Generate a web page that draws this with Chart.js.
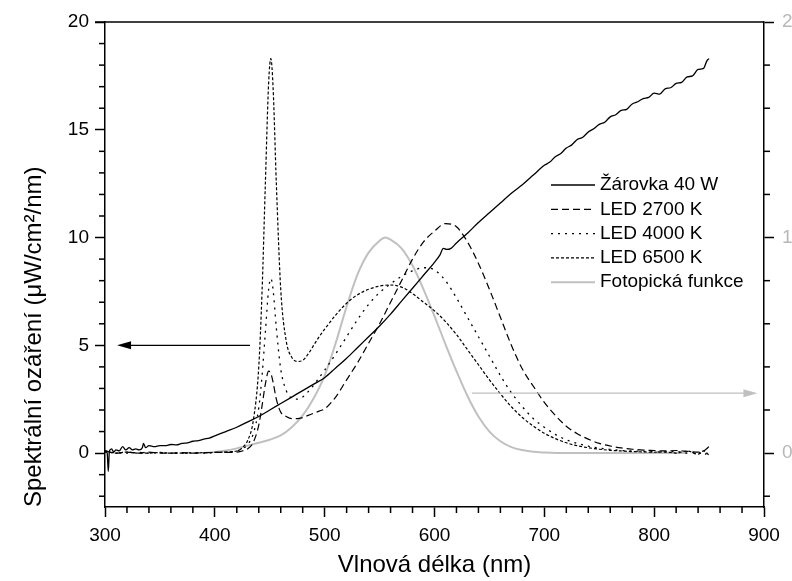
<!DOCTYPE html>
<html>
<head>
<meta charset="utf-8">
<script src="https://cdn.jsdelivr.net/npm/chart.js@4/dist/chart.umd.min.js"></script>
<style>html,body{margin:0;padding:0;background:#fff}canvas{display:block}</style>
</head>
<body>
<canvas id="c" width="792" height="581"></canvas>
<script>
// ---- data (wavelength nm, value) ----
const seriesNames = ['Žárovka 40 W','LED 2700 K','LED 4000 K','LED 6500 K','Fotopická funkce'];
const xTicks = [300,400,500,600,700,800,900];
const yTicks = [0,5,10,15,20];
const y2Ticks = [0,1,2];

const lampData = [[300,0.1],[302,0.0],[303,-0.85],[304,0.1],[306,0.2],[308,0.05],[310,0.15],[313,0.1],[316,0.3],[319,0.15],[322,0.25],[325,0.15],[328,0.2],[331,0.15],[334,0.25],[335,0.45],[337,0.25],[340,0.35],[345,0.3],[350,0.35],[355,0.35],[360,0.4],[365,0.38],[370,0.45],[375,0.48],[380,0.55],[385,0.58],[390,0.65],[395,0.7],[400,0.8],[410,1.0],[420,1.2],[430,1.45],[440,1.7],[450,2.0],[460,2.3],[470,2.6],[480,2.9],[490,3.2],[500,3.5],[510,3.95],[520,4.4],[530,4.9],[540,5.4],[550,5.9],[560,6.45],[570,7.05],[580,7.65],[590,8.25],[600,8.85],[605,9.2],[608,9.5],[611,9.45],[615,9.5],[620,9.75],[630,10.2],[640,10.7],[650,11.15],[660,11.6],[670,12.05],[680,12.45],[690,12.9],[700,13.35],[705,13.5],[710,13.75],[715,13.9],[720,14.15],[725,14.3],[730,14.55],[735,14.65],[740,14.9],[745,15.05],[750,15.25],[755,15.35],[760,15.6],[765,15.7],[770,15.9],[775,15.95],[780,16.2],[785,16.3],[790,16.45],[795,16.5],[800,16.7],[805,16.65],[810,16.9],[815,16.95],[820,17.15],[825,17.2],[830,17.45],[835,17.5],[840,17.8],[845,17.85],[848,18.2],[850,18.3]];

const led2700Data = [[300,0.1],[310,0.0],[320,0.05],[330,0.0],[340,0.05],[350,0.0],[360,0.0],[370,0.02],[380,0.0],[390,0.02],[400,0.03],[410,0.03],[420,0.05],[425,0.1],[430,0.2],[435,0.5],[440,1.3],[443,2.2],[446,3.2],[449,3.8],[451,3.7],[453,3.3],[456,2.5],[460,1.9],[465,1.7],[470,1.6],[475,1.6],[480,1.65],[485,1.75],[490,1.85],[495,1.95],[500,2.05],[510,2.6],[520,3.4],[530,4.2],[540,5.1],[550,6.0],[560,7.0],[570,8.0],[580,9.0],[590,9.8],[600,10.3],[610,10.65],[620,10.5],[630,9.8],[640,8.8],[650,7.6],[660,6.3],[670,5.0],[680,3.9],[690,3.1],[700,2.35],[710,1.75],[720,1.25],[730,0.9],[740,0.65],[750,0.45],[760,0.33],[770,0.24],[780,0.18],[790,0.14],[800,0.12],[810,0.1],[820,0.12],[830,0.08],[840,0.05],[845,0.1],[850,0.3]];

const led4000Data = [[300,0.05],[310,0.02],[320,0.0],[330,0.03],[340,0.0],[350,0.02],[360,0.0],[370,0.0],[380,0.02],[390,0.0],[400,0.03],[410,0.05],[420,0.1],[425,0.2],[430,0.4],[435,0.9],[440,2.1],[443,3.6],[446,5.6],[449,7.6],[451,8.1],[453,7.6],[456,5.8],[460,3.9],[465,2.9],[470,2.55],[475,2.5],[480,2.6],[485,2.85],[490,3.15],[495,3.5],[500,3.85],[510,4.6],[520,5.4],[530,6.2],[540,6.9],[550,7.45],[560,7.85],[570,8.2],[580,8.45],[590,8.6],[600,8.5],[610,8.0],[620,7.2],[630,6.3],[640,5.4],[650,4.5],[660,3.6],[670,2.8],[680,2.15],[690,1.6],[700,1.2],[710,0.87],[720,0.62],[730,0.45],[740,0.32],[750,0.23],[760,0.17],[770,0.12],[780,0.1],[790,0.08],[800,0.06],[810,0.05],[820,0.08],[830,0.0],[840,0.05],[845,-0.1],[850,0.15]];

const led6500Data = [[300,0.1],[310,0.0],[320,0.05],[330,0.0],[340,0.0],[350,0.03],[360,0.0],[370,0.0],[380,0.0],[390,0.02],[400,0.03],[410,0.05],[420,0.1],[425,0.25],[430,0.6],[435,1.5],[440,4.0],[443,7.5],[446,12.5],[449,17.2],[451,18.3],[453,17.0],[456,12.5],[460,7.6],[465,5.2],[470,4.45],[475,4.25],[480,4.3],[485,4.6],[490,5.0],[495,5.4],[500,5.75],[510,6.4],[520,6.95],[530,7.35],[540,7.6],[550,7.75],[560,7.8],[570,7.7],[580,7.4],[590,7.0],[600,6.6],[610,6.1],[620,5.5],[630,4.8],[640,4.1],[650,3.4],[660,2.75],[670,2.15],[680,1.65],[690,1.25],[700,0.92],[710,0.67],[720,0.48],[730,0.34],[740,0.25],[750,0.18],[760,0.13],[770,0.1],[780,0.07],[790,0.06],[800,0.04],[810,0.06],[820,0.0],[830,0.1],[840,-0.05],[845,0.1],[850,-0.1]];

const photopicData = [[390,0],[400,0.005],[410,0.012],[420,0.022],[430,0.035],[440,0.048],[450,0.062],[460,0.082],[470,0.12],[480,0.175],[490,0.255],[500,0.36],[510,0.51],[520,0.68],[530,0.83],[540,0.93],[550,0.985],[555,1.0],[560,0.99],[570,0.95],[580,0.87],[590,0.76],[600,0.635],[610,0.505],[620,0.38],[630,0.265],[640,0.17],[650,0.1],[660,0.055],[670,0.028],[680,0.014],[690,0.006],[700,0.003],[720,0],[760,0],[800,0],[830,0]];

// arrows: [xFrom, xTo, yValue] in data units
const arrowLeft = [432, 311, 5];      // left axis
const arrowRight = [634, 894, 0.278]; // right axis

const FONT = '"Liberation Sans", Arial, sans-serif';
const toXY = a => a.map(p => ({x: p[0], y: p[1]}));
const dashes = [[], [7,4], [2,5], [3,2], []];
const colors = ['#000','#000','#000','#000','#c0c0c0'];
const widths = [1.3, 1.2, 1.3, 1.2, 2];

const extras = {
  id: 'extras',
  afterDraw(chart) {
    const ctx = chart.ctx, a = chart.chartArea;
    const sx = chart.scales.x, sy = chart.scales.y, sy2 = chart.scales.y2;
    ctx.save();
    ctx.strokeStyle = '#000'; ctx.lineWidth = 1.5; ctx.setLineDash([]);
    const seg = (x1,y1,x2,y2) => { ctx.beginPath(); ctx.moveTo(x1,y1); ctx.lineTo(x2,y2); ctx.stroke(); };
    seg(a.left - 10, a.top, a.right, a.top);
    for (let v = 320; v < 900; v += 20) { if (v % 100) { const p = sx.getPixelForValue(v); seg(p, a.bottom, p, a.bottom + 6); } }
    for (let v = -2; v < 20; v++) { if (v % 5) { const p = sy.getPixelForValue(v); seg(a.left - 6, p, a.left, p); } }
    for (let k = -1; k < 10; k++) { if (k % 5) { const p = sy2.getPixelForValue(k * 0.2); seg(a.right, p, a.right + 6, p); } }
    // arrows
    const arrow = (x1, x2, y, col) => {
      ctx.strokeStyle = col; ctx.fillStyle = col; ctx.lineWidth = 1.3;
      const dir = Math.sign(x2 - x1);
      seg(x1, y, x2 - dir * 10, y);
      ctx.beginPath(); ctx.moveTo(x2, y); ctx.lineTo(x2 - dir * 14, y - 4); ctx.lineTo(x2 - dir * 14, y + 4); ctx.closePath(); ctx.fill();
    };
    arrow(sx.getPixelForValue(arrowLeft[0]), sx.getPixelForValue(arrowLeft[1]), sy.getPixelForValue(arrowLeft[2]), '#000');
    arrow(sx.getPixelForValue(arrowRight[0]), sx.getPixelForValue(arrowRight[1]), sy2.getPixelForValue(arrowRight[2]), '#c0c0c0');
    // legend
    ctx.font = '19px ' + FONT; ctx.textBaseline = 'middle'; ctx.textAlign = 'left'; ctx.fillStyle = '#000';
    const lx0 = 551, lx1 = 595, tx = 600, ty0 = 185, dy = 24.3;
    seriesNames.forEach((n, i) => {
      const yy = ty0 + i * dy;
      ctx.strokeStyle = colors[i]; ctx.lineWidth = widths[i]; ctx.setLineDash(dashes[i]);
      seg(lx0, yy, lx1, yy);
      ctx.setLineDash([]);
      ctx.fillStyle = '#000';
      ctx.fillText(n, tx, yy);
    });
    ctx.restore();
  }
};

const series = [lampData, led2700Data, led4000Data, led6500Data, photopicData];
const datasets = series.map((d, i) => ({
  label: seriesNames[i],
  data: toXY(d),
  yAxisID: i === 4 ? 'y2' : 'y',
  borderColor: colors[i],
  borderWidth: widths[i],
  borderDash: dashes[i],
  pointRadius: 0,
  fill: false,
  cubicInterpolationMode: 'monotone'
}));

const tickGrid = { drawOnChartArea: false, drawTicks: true, tickLength: 10, tickColor: '#000', tickWidth: 1.5, color: '#000' };
const border = { display: true, color: '#000', width: 1.5 };

new Chart(document.getElementById('c'), {
  type: 'line',
  data: { datasets },
  options: {
    responsive: false, animation: false, devicePixelRatio: 1,
    layout: { padding: { top: 22, left: 0, right: 0, bottom: 0 } },
    plugins: { legend: { display: false }, tooltip: { enabled: false } },
    scales: {
      x: {
        type: 'linear', min: 300, max: 900,
        afterBuildTicks: s => { s.ticks = xTicks.map(v => ({ value: v })); },
        afterFit: s => { s.height = 74; },
        grid: tickGrid, border,
        ticks: { color: '#000', font: { family: FONT, size: 19 }, padding: 7, maxRotation: 0, autoSkip: false },
        title: { display: true, text: 'Vlnová délka (nm)', color: '#000', font: { family: FONT, size: 24 }, padding: { top: 0, bottom: 1 } }
      },
      y: {
        type: 'linear', position: 'left', min: -2.5, max: 20,
        afterBuildTicks: s => { s.ticks = yTicks.map(v => ({ value: v })); },
        afterFit: s => { s.width = 105; },
        grid: tickGrid, border,
        ticks: { color: '#000', font: { family: FONT, size: 19 }, padding: 6, autoSkip: false },
        title: { display: true, text: 'Spektrální ozáření (μW/cm²/nm)', align: 'start', color: '#000', font: { family: FONT, size: 24 }, padding: { top: 20, bottom: 0 } }
      },
      y2: {
        type: 'linear', position: 'right', min: -0.25, max: 2,
        afterBuildTicks: s => { s.ticks = y2Ticks.map(v => ({ value: v })); },
        afterFit: s => { s.width = 28; },
        grid: tickGrid, border,
        ticks: { color: '#b8b8b8', font: { family: FONT, size: 19 }, padding: 8, autoSkip: false }
      }
    }
  },
  plugins: [extras]
});
</script>
</body>
</html>
